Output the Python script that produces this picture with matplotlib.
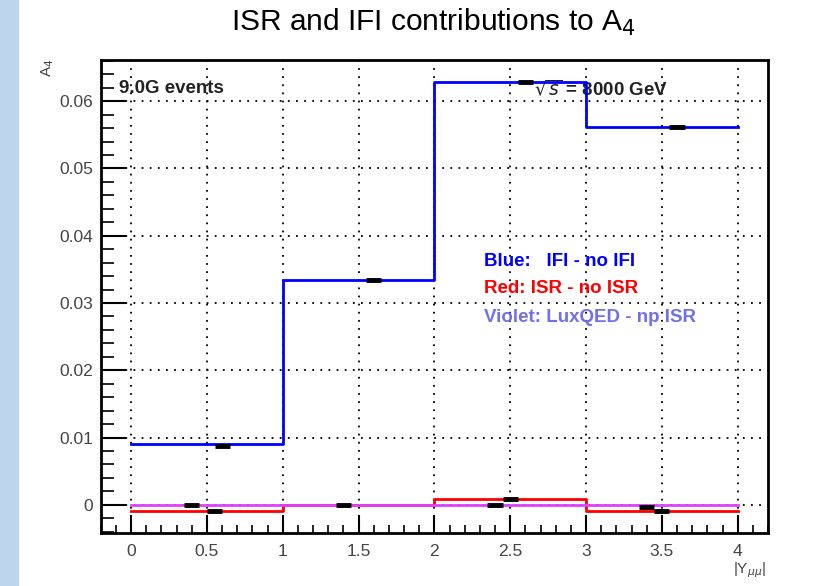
import matplotlib.pyplot as plt
import matplotlib.patches as patches
from matplotlib.ticker import MultipleLocator
import numpy as np

plt.rcParams['font.family'] = ['Liberation Sans', 'DejaVu Sans']

# bin edges in |Y_mumu|
bordas = [0, 1, 2, 3, 4]

# A4 differences per bin
ifi = [0.0090, 0.0334, 0.0628, 0.0561]
isr = [-0.0010, 0.0000, 0.0008, -0.0009]
luxqed = [0.0000, 0.0000, 0.0000, 0.0000]

# points with error bars drawn over the histograms
pontos_x = [0.6, 1.6, 2.6, 3.6, 0.4, 0.55, 1.4, 2.4, 2.5, 3.4, 3.5]
pontos_y = [0.0088, 0.0334, 0.0628, 0.0562, 0.0000, -0.0010, 0.0000, 0.0000, 0.0008, -0.0003, -0.0009]
pontos_erro = [0.0001, 0.0003, 0.0001, 0.0003, 0.0001, 0.0001, 0.0001, 0.0001, 0.0002, 0.0002, 0.0002]

fig = plt.figure(figsize=(8.33, 5.86), dpi=100)
fig.patches.append(patches.Rectangle((0, 0), 18 / 833, 1, transform=fig.transFigure,
                                     color='#bed6ed', zorder=0))
ax = fig.add_axes([0.121, 0.0904, 0.801, 0.807])

def degraus(valores):
    x = np.repeat(bordas, 2)[1:-1]
    y = np.repeat(valores, 2)
    return x, y

x, y = degraus(isr)
ax.plot(x, y, color='red', lw=2, zorder=3)

x, y = degraus(luxqed)
ax.plot(x, y, color='#e040ff', lw=2, zorder=4)

x, y = degraus(ifi)
ax.plot(x, y, color='blue', lw=2, zorder=5)

ax.errorbar(pontos_x, pontos_y, xerr=0.05, yerr=pontos_erro, fmt='none',
            ecolor='black', elinewidth=3.5, capsize=0, zorder=6)

ax.set_xlim(-0.2, 4.2)
ax.set_ylim(-0.0042, 0.0661)
ax.xaxis.set_minor_locator(MultipleLocator(0.1))
ax.yaxis.set_minor_locator(MultipleLocator(0.002))
ax.set_xticks(np.arange(0, 4.01, 0.5))
ax.set_xticklabels(['0', '0.5', '1', '1.5', '2', '2.5', '3', '3.5', '4'])
ax.set_yticks(np.arange(0, 0.061, 0.01))
ax.set_yticklabels(['0', '0.01', '0.02', '0.03', '0.04', '0.05', '0.06'])
ax.tick_params(which='major', direction='in', width=1.5, labelsize=12.5,
               labelcolor='#444444', top=False, right=False)
ax.tick_params(which='minor', direction='in', width=1.2, top=False, right=False)
ax.tick_params(axis='x', which='major', length=13, pad=8)
ax.tick_params(axis='x', which='minor', length=6)
ax.tick_params(axis='y', which='major', length=18, pad=5.5)
ax.tick_params(axis='y', which='minor', length=9)
ax.grid(True, which='major', color='black', linestyle=(0, (1, 3.5)), linewidth=1.3)
for lado in ax.spines.values():
    lado.set_linewidth(2)

fig.text(0.52, 0.962, 'ISR and IFI contributions to A$_4$', ha='center', va='center',
         fontsize=21.5)
ax.text(-0.08, 0.0619, '9.0G events', fontsize=13.5, fontweight='bold',
        color='#222222', va='center')
ax.text(2.66, 0.0619, r'$\sqrt{s}$ = 8000 GeV', fontsize=13.5, fontweight='bold',
        color='#222222', va='center')
ax.text(2.33, 0.0362, 'Blue:   IFI - no IFI', color='blue', fontsize=13.5,
        fontweight='bold', va='center')
ax.text(2.33, 0.0322, 'Red: ISR - no ISR', color='red', fontsize=13.5,
        fontweight='bold', va='center')
ax.text(2.33, 0.0279, 'Violet: LuxQED - np ISR', color='#7070e8', fontsize=13.5,
        fontweight='bold', va='center')

fig.text(0.057, 0.885, 'A$_4$', rotation=90, fontsize=11, color='#444444',
         ha='center', va='center')
fig.text(0.9, 0.027, '|Y$_{\\mu\\mu}$|', fontsize=11, color='#444444',
         ha='center', va='center')

fig.savefig('out.png', dpi=100)
